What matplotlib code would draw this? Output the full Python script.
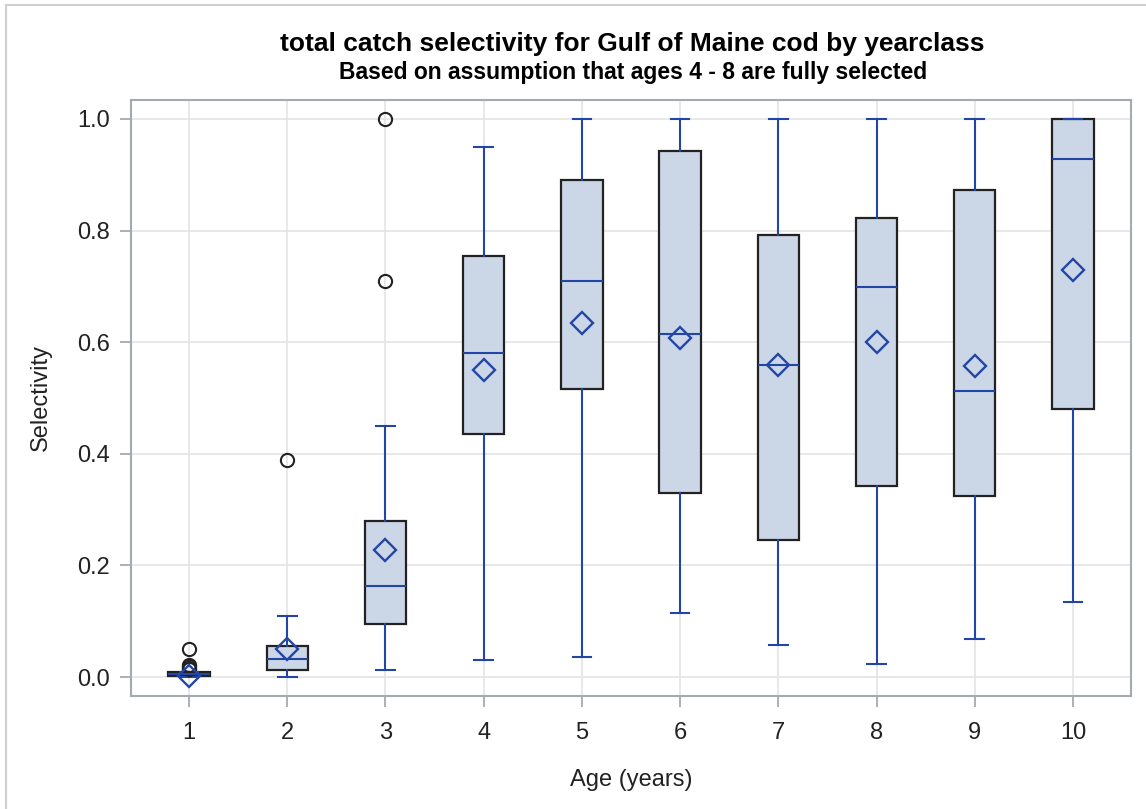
import matplotlib
matplotlib.use("Agg")
import matplotlib.pyplot as plt
from matplotlib.patches import Rectangle

# box statistics (selectivity by age)
ages = [1, 2, 3, 4, 5, 6, 7, 8, 9, 10]
q1 = [0.002, 0.012, 0.095, 0.435, 0.517, 0.330, 0.245, 0.343, 0.325, 0.480]
med = [0.005, 0.033, 0.163, 0.580, 0.710, 0.615, 0.560, 0.698, 0.513, 0.928]
q3 = [0.009, 0.055, 0.280, 0.755, 0.890, 0.943, 0.792, 0.822, 0.872, 1.000]
whislo = [0.000, 0.000, 0.012, 0.030, 0.035, 0.115, 0.057, 0.023, 0.068, 0.135]
whishi = [0.009, 0.110, 0.450, 0.950, 1.000, 1.000, 1.000, 1.000, 1.000, 1.000]
means = [0.002, 0.050, 0.228, 0.550, 0.635, 0.607, 0.560, 0.600, 0.558, 0.730]
fliers = [[0.050, 0.022, 0.019, 0.016, 0.014], [0.389], [0.710, 1.000],
          [], [], [], [], [], [], []]

yticks = [0.0, 0.2, 0.4, 0.6, 0.8, 1.0]

BLUE = "#2346A6"
FILL = "#CBD6E6"
GRID = "#E4E4E4"
FRAME = "#A4ABAF"

plt.rcParams["font.family"] = ["Liberation Sans", "DejaVu Sans"]

fig = plt.figure(figsize=(11.46, 8.09), dpi=100)
ax = fig.add_axes([0.1143, 0.1397, 0.8726, 0.7367])

# outer border around the whole graph
fig.patches.append(Rectangle((6 / 1146, -0.01), 1.2, 1 - 5 / 809 + 0.01,
                             transform=fig.transFigure, fill=False,
                             edgecolor="#CFCFCF", linewidth=1.5))

stats = []
for i, a in enumerate(ages):
    stats.append(dict(label=str(a), q1=q1[i], med=med[i], q3=q3[i],
                      whislo=whislo[i], whishi=whishi[i], mean=means[i],
                      fliers=fliers[i]))

ax.bxp(stats, positions=ages, widths=0.42, capwidths=0.19,
       patch_artist=True, showmeans=True, showfliers=True,
       boxprops=dict(facecolor=FILL, edgecolor="#222222", linewidth=1.6),
       whiskerprops=dict(color=BLUE, linewidth=1.5),
       capprops=dict(color=BLUE, linewidth=1.5),
       medianprops=dict(color=BLUE, linewidth=1.5),
       meanprops=dict(marker="D", markerfacecolor="none",
                      markeredgecolor=BLUE, markersize=11, markeredgewidth=1.7),
       flierprops=dict(marker="o", markerfacecolor="none",
                       markeredgecolor="#222222", markersize=9.5,
                       markeredgewidth=1.5))

ax.set_xlim(0.41, 10.59)
ax.set_ylim(-0.034, 1.034)
ax.set_xticks(ages)
ax.set_xticklabels([str(a) for a in ages])
ax.set_yticks(yticks)
ax.set_yticklabels([f"{v:.1f}" for v in yticks])
ax.grid(True, color=GRID, linewidth=1.2)
ax.set_axisbelow(True)

for s in ax.spines.values():
    s.set_color(FRAME)
    s.set_linewidth(1.5)
ax.tick_params(axis="both", colors=FRAME, length=8, width=1.3, pad=7,
               labelsize=17, labelcolor="#222222")
ax.tick_params(axis="x", pad=11)

ax.set_xlabel("Age (years)", fontsize=17, color="#222222", labelpad=18)
ax.set_ylabel("Selectivity", fontsize=17, color="#222222", labelpad=18)

fig.text(0.552, 0.946, "total catch selectivity for Gulf of Maine cod by yearclass",
         ha="center", va="center", fontsize=19, fontweight="bold")
fig.text(0.552, 0.910, "Based on assumption that ages 4 - 8 are fully selected",
         ha="center", va="center", fontsize=16.5, fontweight="bold")

fig.savefig("out.png", dpi=100)
